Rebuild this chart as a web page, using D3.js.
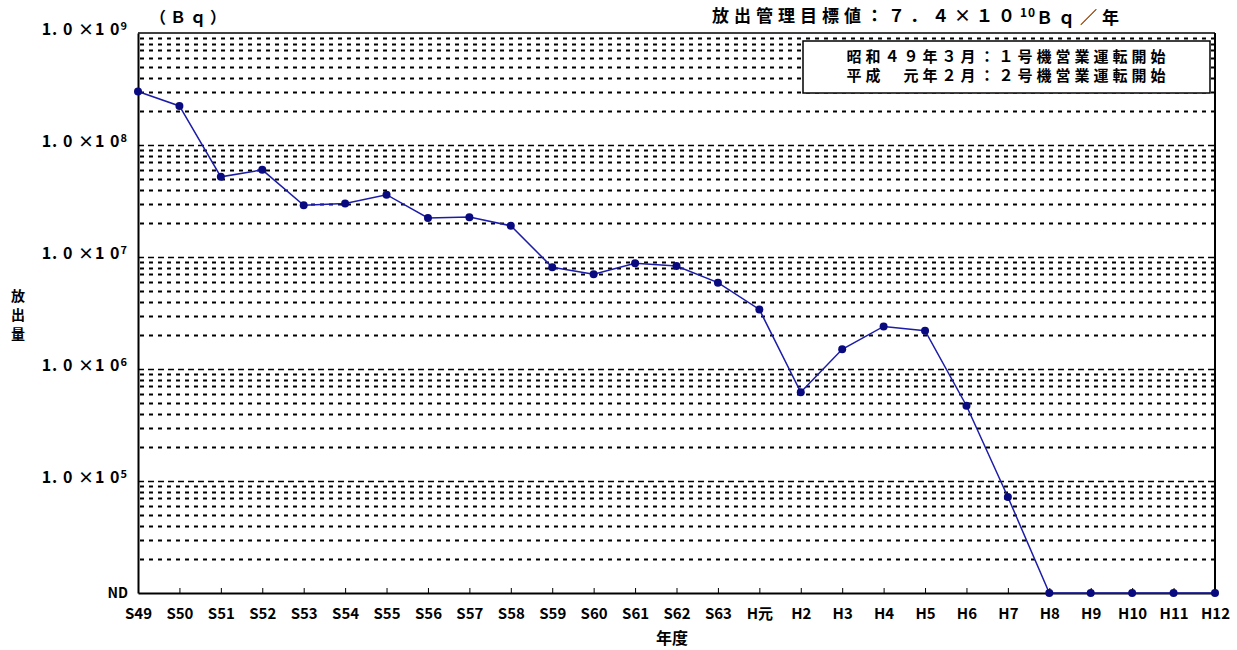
<!DOCTYPE html>
<html>
<head>
<meta charset="utf-8">
<script src="https://cdn.jsdelivr.net/npm/d3@7"></script>
<style>
  body { margin: 0; background: #fff; }
  svg text { font-family: "Noto Sans CJK JP", "DejaVu Sans", sans-serif; fill: #000; }
</style>
</head>
<body>
<div id="chart"></div>
<script>
// fiscal years (Showa 49 .. Heisei 12)
var years = ["S49", "S50", "S51", "S52", "S53", "S54", "S55", "S56", "S57", "S58",
             "S59", "S60", "S61", "S62", "S63", "H元", "H2", "H3", "H4", "H5",
             "H6", "H7", "H8", "H9", "H10", "H11", "H12"];

// released amount (Bq), null = ND
var releases = [3.0e8, 2.23e8, 5.2e7, 6.0e7, 2.9e7, 3.0e7, 3.6e7, 2.23e7, 2.27e7, 1.9e7,
                8.1e6, 7.0e6, 8.8e6, 8.3e6, 5.9e6, 3.4e6, 6.2e5, 1.5e6, 2.4e6, 2.2e6,
                4.7e5, 7.2e4, null, null, null, null, null];

// decade labels on the y axis
var decades = [1e9, 1e8, 1e7, 1e6, 1e5];
var decadeExp = ["9", "8", "7", "6", "5"];

var legendLines = ["昭和４９年３月：１号機営業運転開始", "平成　元年２月：２号機営業運転開始"];

var width = 1237, height = 650;
var margin = {top: 33, right: 22, bottom: 57, left: 138};
var ndValue = 1e4;

var svg = d3.select("#chart").append("svg")
    .attr("width", width)
    .attr("height", height);

var x = d3.scalePoint()
    .domain(years)
    .range([margin.left, width - margin.right]);

var y = d3.scaleLog()
    .domain([ndValue, 1e9])
    .range([height - margin.bottom, margin.top]);

// grid lines: 2..9 inside each decade, plus decade lines
var grid = svg.append("g");
var minorVals = [];
for (var e = 4; e < 9; e++) {
    for (var m = 2; m <= 9; m++) minorVals.push(m * Math.pow(10, e));
}
grid.selectAll("line.minor")
    .data(minorVals)
    .enter().append("line")
    .attr("class", "minor")
    .attr("x1", margin.left + 2)
    .attr("x2", width - margin.right)
    .attr("y1", function (d) { return Math.round(y(d)) + 0.5; })
    .attr("y2", function (d) { return Math.round(y(d)) + 0.5; })
    .attr("stroke", "#000")
    .attr("stroke-width", 2)
    .attr("stroke-dasharray", "4,5");

grid.selectAll("line.major")
    .data(decades.slice(1))
    .enter().append("line")
    .attr("class", "major")
    .attr("x1", margin.left)
    .attr("x2", width - margin.right)
    .attr("y1", function (d) { return Math.round(y(d)) + 0.5; })
    .attr("y2", function (d) { return Math.round(y(d)) + 0.5; })
    .attr("stroke", "#000")
    .attr("stroke-width", 1.5)
    .attr("stroke-dasharray", "6,4");

// frame
svg.append("line")
    .attr("x1", margin.left).attr("x2", width - margin.right)
    .attr("y1", y(1e9)).attr("y2", y(1e9))
    .attr("stroke", "#000").attr("stroke-width", 1.5);
svg.append("line")
    .attr("x1", width - margin.right).attr("x2", width - margin.right)
    .attr("y1", y(1e9)).attr("y2", y(ndValue))
    .attr("stroke", "#000").attr("stroke-width", 2);

// x axis
var xAxis = d3.axisBottom(x).tickSizeInner(-5).tickSizeOuter(0).tickPadding(17);
var gx = svg.append("g")
    .attr("transform", "translate(0," + y(ndValue) + ")")
    .call(xAxis);
gx.select(".domain").attr("stroke-width", 2);
gx.selectAll("text")
    .style("font-size", "15px")
    .style("font-weight", "bold")
    .attr("dy", "0.6em");

// y axis (left line)
var gy = svg.append("g")
    .attr("transform", "translate(" + margin.left + ",0)")
    .call(d3.axisLeft(y).tickValues(decades.concat([ndValue])).tickSize(0).tickFormat(""));
gy.select(".domain").attr("stroke-width", 2);

// y tick labels 1.0×10^n
var ylab = svg.append("g");
decades.forEach(function (d, i) {
    var t = ylab.append("text")
        .attr("x", margin.left - 10)
        .attr("y", y(d))
        .attr("dy", "0.15em")
        .attr("text-anchor", "end")
        .style("font-size", "16px")
        .style("font-weight", "bold")
        .style("letter-spacing", "1px");
    t.append("tspan").text("1. 0 ×1 0");
    t.append("tspan").attr("dy", "-0.5em").style("font-size", "11px").text(decadeExp[i]);
});
ylab.append("text")
    .attr("x", margin.left - 10)
    .attr("y", y(ndValue))
    .attr("dy", "0.35em")
    .attr("text-anchor", "end")
    .style("font-size", "14px")
    .style("font-weight", "bold")
    .text("ND");

// unit & title
svg.append("text")
    .attr("x", 190).attr("y", 17)
    .attr("dy", "0.35em")
    .attr("text-anchor", "middle")
    .style("font-size", "16px")
    .style("font-weight", "bold")
    .style("letter-spacing", "4px")
    .text("（Ｂｑ）");

var title = svg.append("text")
    .attr("x", 918).attr("y", 16)
    .attr("dy", "0.35em")
    .attr("text-anchor", "middle")
    .style("font-size", "17px")
    .style("font-weight", "bold")
    .style("letter-spacing", "5px");
title.append("tspan").text("放出管理目標値：７．４×１０");
title.append("tspan").attr("dy", "-0.45em").style("font-size", "12px").style("letter-spacing", "1px").text("10");
title.append("tspan").attr("dy", "0.45em").text("Ｂｑ／年");

// legend box
var lg = svg.append("g");
lg.append("rect")
    .attr("x", 803).attr("y", 41)
    .attr("width", 407).attr("height", 52)
    .attr("fill", "#fff")
    .attr("stroke", "#000")
    .attr("stroke-width", 1.5);
lg.selectAll("text")
    .data(legendLines)
    .enter().append("text")
    .attr("x", 1008)
    .attr("y", function (d, i) { return 57 + i * 19; })
    .attr("dy", "0.35em")
    .attr("text-anchor", "middle")
    .style("font-size", "15px")
    .style("font-weight", "bold")
    .style("letter-spacing", "4px")
    .text(function (d) { return d; });

// axis titles
svg.append("text")
    .attr("x", 672).attr("y", 638)
    .attr("dy", "0.35em")
    .attr("text-anchor", "middle")
    .style("font-size", "16px")
    .style("font-weight", "bold")
    .text("年度");

var yt = svg.append("g");
["放", "出", "量"].forEach(function (c, i) {
    yt.append("text")
        .attr("x", 18)
        .attr("y", 296 + i * 19)
        .attr("dy", "0.35em")
        .attr("text-anchor", "middle")
        .style("font-size", "14px")
        .style("font-weight", "bold")
        .text(c);
});

// data line
var pts = years.map(function (d, i) {
    return {year: d, value: releases[i] === null ? ndValue : releases[i]};
});

var line = d3.line()
    .x(function (d) { return x(d.year); })
    .y(function (d) { return y(d.value); });

svg.append("path")
    .datum(pts)
    .attr("d", line)
    .attr("fill", "none")
    .attr("stroke", "#1c1ca8")
    .attr("stroke-width", 1.5);

svg.selectAll("circle.pt")
    .data(pts)
    .enter().append("circle")
    .attr("class", "pt")
    .attr("cx", function (d) { return x(d.year); })
    .attr("cy", function (d) { return y(d.value); })
    .attr("r", 4)
    .attr("fill", "#0a0a80");
</script>
</body>
</html>
